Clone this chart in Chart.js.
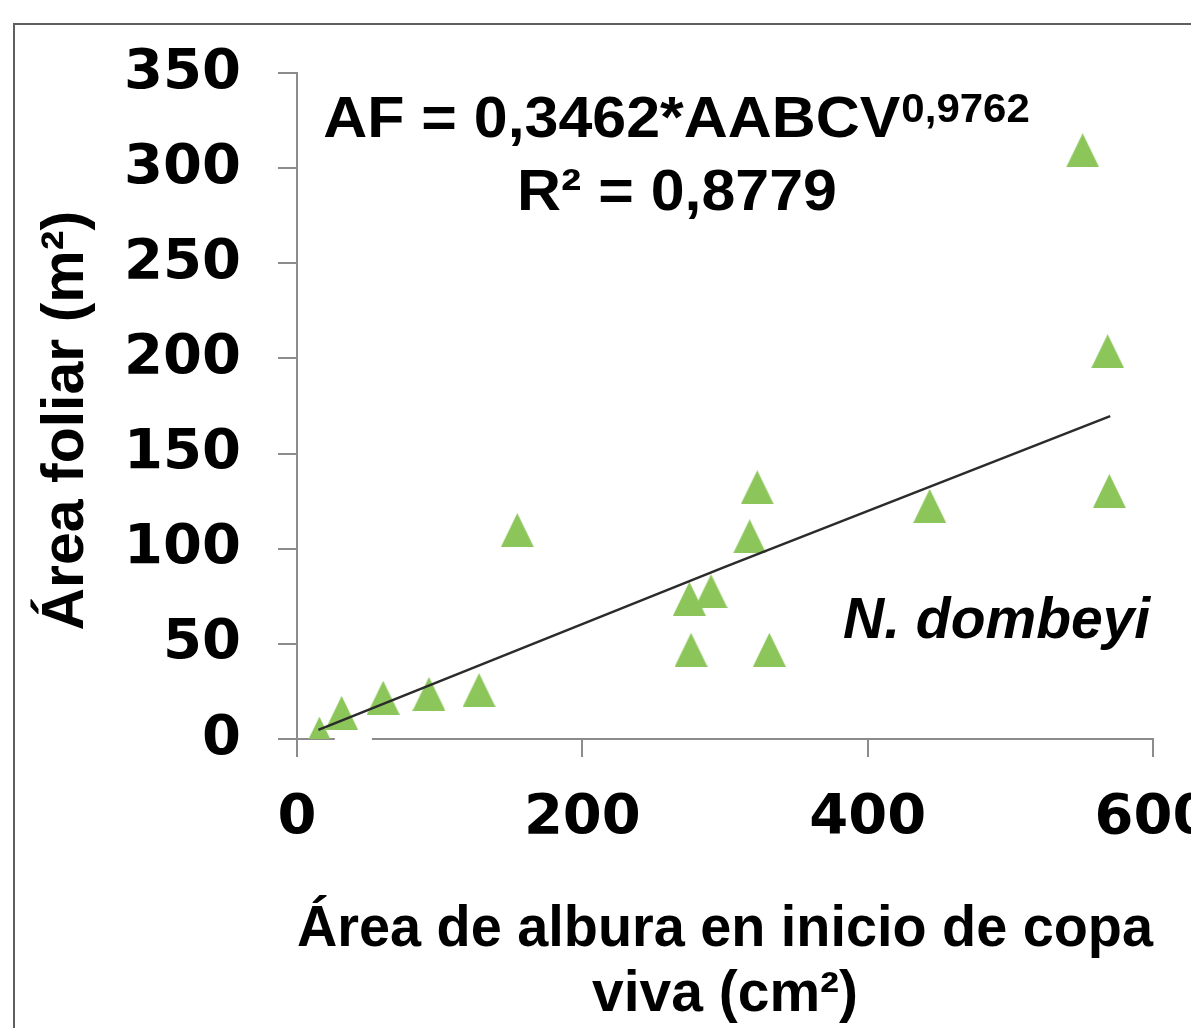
<!DOCTYPE html>
<html lang="es">
<head>
  <meta charset="UTF-8">
  <title>Área foliar vs área de albura - N. dombeyi</title>
  <script src="https://cdn.jsdelivr.net/npm/chart.js"></script>
  <style>
    body {
      margin: 0;
      padding: 0;
      background: #fff;
      overflow: hidden;
      width: 1191px;
      height: 1028px;
      position: relative;
    }
    /* border of the original figure frame (cropped) */
    .frame {
      position: absolute;
      left: 13px;
      top: 23px;
      width: 1300px;
      height: 1100px;
      border-left: 2px solid #5f5f5f;
      border-top: 2px solid #5f5f5f;
    }
    #chartBox {
      position: absolute;
      left: 0;
      top: 0;
      width: 1250px;
      height: 1028px;
    }
  </style>
</head>
<body>
  <div class="frame"></div>
  <div id="chartBox"><canvas id="scatter"></canvas></div>

  <script>
    // sapwood area at live crown base (cm2) and leaf area (m2)
    const sapwoodArea = [15.7, 31.3, 60.4, 92.5, 127.6, 154.4, 275.0, 276.2, 290.2, 317.3, 322.6, 331.1, 443.5, 550.7, 568.2, 569.4];
    const leafArea    = [2.8, 13.7, 21.7, 23.7, 25.7, 109.8, 73.7, 46.9, 77.7, 106.5, 132.3, 46.9, 122.5, 309.4, 203.8, 130.3];

    // power trend line as drawn in the figure
    const trendX = [15, 300, 570];
    const trendY = [4.8, 90.5, 169.7];

    const xTicks = [0, 200, 400, 600];
    const yTicks = [0, 50, 100, 150, 200, 250, 300, 350];

    const green = '#8cc65a';
    const axisGray = '#8c8c8c';

    // triangle marker like the Excel one
    function makeTriangle(w, h, color) {
      const c = document.createElement('canvas');
      c.width = w;
      c.height = h;
      const g = c.getContext('2d');
      g.fillStyle = color;
      g.beginPath();
      g.moveTo(w / 2, 0);
      g.lineTo(w, h);
      g.lineTo(0, h);
      g.closePath();
      g.fill();
      return c;
    }
    const tri = makeTriangle(33, 34, green);

    // small white gap on the x axis near the origin (as in the scan)
    const axisGap = {
      id: 'axisGap',
      beforeDatasetsDraw(chart) {
        const x = chart.scales.x, y = chart.scales.y;
        const ctx = chart.ctx;
        const x0 = x.getPixelForValue(26.5), x1 = x.getPixelForValue(52.5);
        const y0 = y.getPixelForValue(0);
        ctx.save();
        ctx.fillStyle = '#fff';
        ctx.fillRect(x0, y0 - 3, x1 - x0, 6);
        ctx.restore();
      }
    };

    // equation + species label
    const notesPlugin = {
      id: 'notes',
      afterDraw(chart) {
        const ctx = chart.ctx;
        const stretch = 1.05;
        ctx.save();
        ctx.fillStyle = '#000';
        ctx.textBaseline = 'alphabetic';
        ctx.textAlign = 'left';

        // AF = 0,3462*AABCV^0,9762
        const main = 'AF = 0,3462*AABCV';
        const sup = '0,9762';
        ctx.font = 'bold 58px "Liberation Sans", Arial, sans-serif';
        const wMain = ctx.measureText(main).width;
        ctx.font = 'bold 40px "Liberation Sans", Arial, sans-serif';
        const wSup = ctx.measureText(sup).width;
        let total = (wMain + wSup) * stretch;
        ctx.save();
        ctx.translate(676 - total / 2, 137);
        ctx.scale(stretch, 1);
        ctx.font = 'bold 58px "Liberation Sans", Arial, sans-serif';
        ctx.fillText(main, 0, 0);
        ctx.font = 'bold 40px "Liberation Sans", Arial, sans-serif';
        ctx.fillText(sup, wMain + 1, -15);
        ctx.restore();

        // R² = 0,8779
        ctx.font = 'bold 58px "Liberation Sans", Arial, sans-serif';
        const r2 = 'R² = 0,8779';
        total = ctx.measureText(r2).width * stretch;
        ctx.save();
        ctx.translate(677 - total / 2, 210);
        ctx.scale(stretch, 1);
        ctx.fillText(r2, 0, 0);
        ctx.restore();

        // species
        ctx.font = 'italic bold 57px "Liberation Sans", Arial, sans-serif';
        ctx.fillText('N. dombeyi', 843, 638);
        ctx.restore();
      }
    };

    Chart.defaults.font.family = '"Liberation Sans", Arial, sans-serif';
    Chart.defaults.color = '#000';

    new Chart(document.getElementById('scatter'), {
      type: 'scatter',
      data: {
        datasets: [
          {
            label: 'Tendencia',
            type: 'line',
            data: trendX.map((x, i) => ({ x: x, y: trendY[i] })),
            borderColor: '#2b2b2b',
            borderWidth: 2.5,
            pointRadius: 0,
            fill: false,
            tension: 0,
            order: 0
          },
          {
            label: 'N. dombeyi',
            data: sapwoodArea.map((x, i) => ({ x: x, y: leafArea[i] })),
            pointStyle: tri,
            pointRadius: 17,
            backgroundColor: green,
            borderWidth: 0,
            order: 1
          }
        ]
      },
      options: {
        responsive: true,
        maintainAspectRatio: false,
        animation: false,
        layout: {
          padding: { left: 0, top: 73, right: 97, bottom: 0 }
        },
        plugins: {
          legend: { display: false },
          tooltip: { enabled: false }
        },
        scales: {
          x: {
            type: 'linear',
            min: 0,
            max: 600,
            afterBuildTicks: (scale) => { scale.ticks = xTicks.map(v => ({ value: v })); },
            afterFit: (scale) => { scale.height = 289; },
            ticks: {
              padding: 28,
              font: { family: '"DejaVu Sans"', size: 56, weight: 'bold' },
              color: '#000',
              maxRotation: 0
            },
            grid: {
              drawOnChartArea: false,
              drawTicks: true,
              tickLength: 18,
              color: axisGray,
              lineWidth: 2
            },
            border: { display: true, color: axisGray, width: 2 },
            title: {
              display: true,
              text: ['Área de albura en inicio de copa', 'viva (cm²)'],
              font: { size: 57, weight: 'bold', lineHeight: 1.14 },
              color: '#000',
              padding: { top: 0, bottom: 0 }
            }
          },
          y: {
            type: 'linear',
            min: 0,
            max: 350,
            afterBuildTicks: (scale) => { scale.ticks = yTicks.map(v => ({ value: v })); },
            afterFit: (scale) => { scale.width = 297; },
            ticks: {
              padding: 37,
              font: { family: '"DejaVu Sans"', size: 56, weight: 'bold' },
              color: '#000'
            },
            grid: {
              drawOnChartArea: false,
              drawTicks: true,
              tickLength: 19,
              color: axisGray,
              lineWidth: 2
            },
            border: { display: true, color: axisGray, width: 2 },
            title: {
              display: true,
              // trailing en space nudges the centred title down like in the figure
              text: 'Área foliar (m²)\u2002',
              font: { size: 59, weight: 'bold', lineHeight: 1.2 },
              color: '#000',
              padding: { top: 31, bottom: 0 }
            }
          }
        }
      },
      plugins: [axisGap, notesPlugin]
    });
  </script>
</body>
</html>
